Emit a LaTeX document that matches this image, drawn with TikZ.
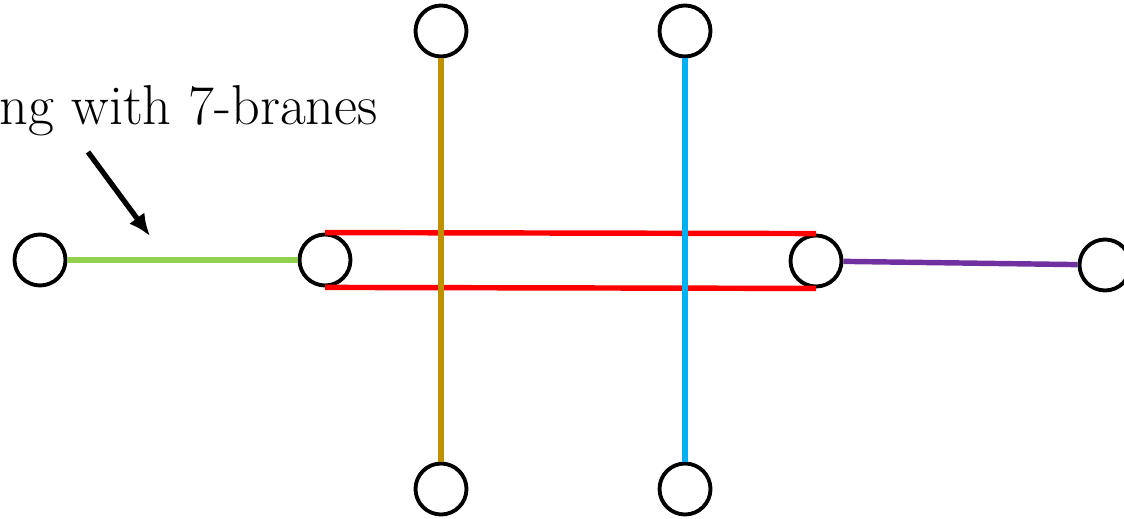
\documentclass[tikz,border=0pt]{standalone}
\usepackage{tikz}
\usetikzlibrary{arrows.meta, positioning}
\definecolor{strgreen}{RGB}{146, 208, 80}
\definecolor{strpurple}{RGB}{112, 48, 160}
\definecolor{strgold}{RGB}{191, 144, 0}
\definecolor{strblue}{RGB}{0, 176, 240}

\begin{document}
\begin{tikzpicture}[x=0.02cm, y=-0.02cm,
				brane/.style={circle, draw=black, fill=white, line width=2.2pt,
					minimum size=1.02cm, inner sep=0pt},
				strline/.style={line width=3.1pt}]
				\useasboundingbox (0,0) rectangle (1124,519);
				
				\node[brane] (l1) at (40,260) {};
				\node[brane] (l2) at (325,260) {};
				\node[brane] (r1) at (816,261) {};
				\node[brane] (r2) at (1105,265) {};
				\node[brane] (t1) at (441,31) {};
				\node[brane] (t2) at (685,31) {};
				\node[brane] (b1) at (441,489) {};
				\node[brane] (b2) at (685,489) {};
				
				\node[anchor=base east, inner sep=0pt, font=\fontsize{32}{38}\selectfont] (lbl) at (378,125) {ng with 7-branes};
				\coordinate (a1) at (88,152);
				\coordinate (a2) at (150,236);
				
				\draw[strline, strgreen] (l1) -- (l2);
				\draw[strline, strpurple] (r1) -- (r2);
				\draw[strline, red] (l2.north) -- (r1.north);
				\draw[strline, red] (l2.south) -- (r1.south);
				\draw[strline, strgold] (t1) -- (b1);
				\draw[strline, strblue] (t2) -- (b2);
				
				\draw[-{Latex[length=0.44cm, width=0.38cm]}, line width=3pt] (a1) -- (a2);
			\end{tikzpicture}
\end{document}
